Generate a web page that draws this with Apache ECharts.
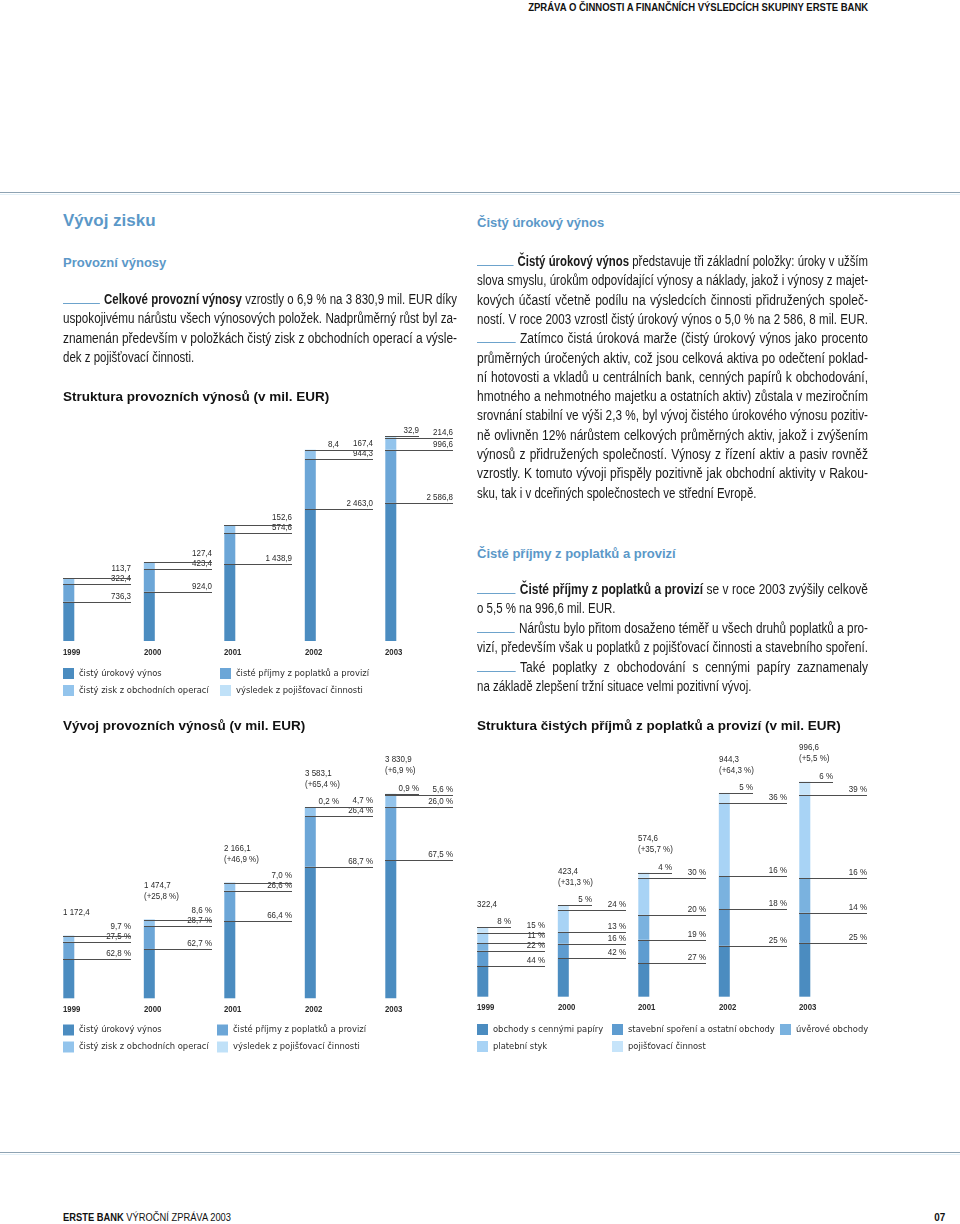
<!DOCTYPE html>
<html><head><meta charset="utf-8">
<script src="https://cdn.jsdelivr.net/npm/echarts@6/dist/echarts.min.js"></script>
<style>
html,body{margin:0;padding:0;background:#fff;}
#page{position:relative;width:960px;height:1224px;overflow:hidden;font-family:"Liberation Sans",Arial,sans-serif;color:#1a1a1a;}
#chart{position:absolute;left:0;top:0;width:960px;height:1224px;}
.ln{position:absolute;font-size:14px;line-height:20px;height:20px;text-align:justify;text-align-last:justify;transform-origin:0 0;}
.ln.last{text-align-last:left;}
.rule{display:inline-block;width:45px;height:1px;background:#6da3cc;vertical-align:baseline;margin-right:5px;}
.h1{position:absolute;font-weight:bold;color:#5b98c8;white-space:nowrap;}
.hr{position:absolute;left:0;width:960px;height:1px;background:#8ea3b3;}
.hr2{position:absolute;left:0;width:960px;height:1px;background:#e4f1f8;}
.fit{position:absolute;white-space:nowrap;font-size:11px;color:#111;}
</style></head>
<body><div id="page">
<div class="fit" id="hdr" data-w="340" data-right="868" style="top:1px;font-weight:bold;">ZPRÁVA O ČINNOSTI A FINANČNÍCH VÝSLEDCÍCH SKUPINY ERSTE BANK</div>
<div class="hr" style="top:192px"></div><div class="hr2" style="top:194px"></div>
<div class="h1" style="left:63px;top:211px;font-size:17px;">Vývoj zisku</div>
<div class="h1" style="left:63px;top:255px;font-size:13px;">Provozní výnosy</div>
<div class="h1" style="left:477px;top:215px;font-size:13px;">Čistý úrokový výnos</div>
<div class="h1" style="left:477px;top:546px;font-size:13px;">Čisté příjmy z poplatků a provizí</div>
<div class="hr" style="top:1152px"></div><div class="hr2" style="top:1154px"></div>
<div class="fit" data-w="168" data-left="63" style="top:1211px;"><b>ERSTE BANK</b> VÝROČNÍ ZPRÁVA 2003</div>
<div class="fit" data-w="11" data-right="945" style="top:1211px;font-weight:bold;">07</div>
<div id="chart"></div>
</div>
<script>
// ---------- data ----------
const years = ['1999', '2000', '2001', '2002', '2003'];
// Struktura provozních výnosů (v mil. EUR)
const netInterest = [736.3, 924.0, 1438.9, 2463.0, 2586.8];
const netFees = [322.4, 423.4, 574.6, 944.3, 996.6];
const netTrading = [113.7, 127.4, 152.6, 167.4, 214.6];
const insuranceResult = [null, null, null, 8.4, 32.9];
// Vývoj provozních výnosů (v mil. EUR)
const opTotals = [1172.4, 1474.7, 2166.1, 3583.1, 3830.9];
const opGrowth = [null, 25.8, 46.9, 65.4, 6.9];
const interestPct = [62.8, 62.7, 66.4, 68.7, 67.5];
const feesPct = [27.5, 28.7, 26.6, 26.4, 26.0];
const tradingPct = [9.7, 8.6, 7.0, 4.7, 5.6];
const insurancePct = [null, null, null, 0.2, 0.9];
// Struktura čistých příjmů z poplatků a provizí (v mil. EUR)
const feeTotals = [322.4, 423.4, 574.6, 944.3, 996.6];
const feeGrowth = [null, 31.3, 35.7, 64.3, 5.5];
const securitiesPct = [44, 42, 27, 25, 25];
const buildingPct = [22, 16, 19, 18, 14];
const lendingPct = [11, 13, 20, 16, 16];
const paymentsPct = [15, 24, 30, 36, 39];
const insFeesPct = [8, 5, 4, 5, 6];

// ---------- prose ----------
const leftLines = [
 ['<span class="rule"></span><b>Celkové provozní výnosy</b> vzrostly o 6,9 % na 3 830,9 mil. EUR díky', 0],
 ['uspokojivému nárůstu všech výnosových položek. Nadprůměrný růst byl za-', 0],
 ['znamenán především v položkách čistý zisk z obchodních operací a výsle-', 0],
 ['dek z pojišťovací činnosti.', 1]
];
const rightLines1 = [
 ['<span class="rule"></span><b>Čistý úrokový výnos</b> představuje tři základní položky: úroky v užším', 0],
 ['slova smyslu, úrokům odpovídající výnosy a náklady, jakož i výnosy z majet-', 0],
 ['kových účastí včetně podílu na výsledcích činnosti přidružených společ-', 0],
 ['ností. V roce 2003 vzrostl čistý úrokový výnos o 5,0 % na 2 586, 8 mil. EUR.', 0],
 ['<span class="rule"></span>Zatímco čistá úroková marže (čistý úrokový výnos jako procento', 0],
 ['průměrných úročených aktiv, což jsou celková aktiva po odečtení poklad-', 0],
 ['ní hotovosti a vkladů u centrálních bank, cenných papírů k obchodování,', 0],
 ['hmotného a nehmotného majetku a ostatních aktiv) zůstala v meziročním', 0],
 ['srovnání stabilní ve výši 2,3 %, byl vývoj čistého úrokového výnosu pozitiv-', 0],
 ['ně ovlivněn 12% nárůstem celkových průměrných aktiv, jakož i zvýšením', 0],
 ['výnosů z přidružených společností. Výnosy z řízení aktiv a pasiv rovněž', 0],
 ['vzrostly. K tomuto vývoji přispěly pozitivně jak obchodní aktivity v Rakou-', 0],
 ['sku, tak i v dceřiných společnostech ve střední Evropě.', 1]
];
const rightLines2 = [
 ['<span class="rule"></span><b>Čisté příjmy z poplatků a provizí</b> se v roce 2003 zvýšily celkově', 0],
 ['o 5,5 % na 996,6 mil. EUR.', 1],
 ['<span class="rule"></span>Nárůstu bylo přitom dosaženo téměř u všech druhů poplatků a pro-', 0],
 ['vizí, především však u poplatků z pojišťovací činnosti a stavebního spoření.', 0],
 ['<span class="rule"></span>Také poplatky z obchodování s cennými papíry zaznamenaly', 0],
 ['na základě zlepšení tržní situace velmi pozitivní vývoj.', 1]
];
const page = document.getElementById('page');
const S_MIN = 0.76, S_MAX = 0.86, S_LAST = 0.82;
function addBlock(lines, x, firstCenter, pitch, w) {
  lines.forEach((l, i) => {
    const d = document.createElement('div');
    d.className = 'ln' + (l[1] ? ' last' : '');
    d.style.left = x + 'px';
    d.style.top = (firstCenter + i * pitch - 10.5) + 'px';
    d.innerHTML = l[0];
    d.style.whiteSpace = 'nowrap';
    page.appendChild(d);
    const nat = d.getBoundingClientRect().width;
    let s = l[1] ? S_LAST : Math.min(S_MAX, Math.max(S_MIN, (w - 1) / nat));
    if (nat * s > w - 1) s = (w - 1) / nat;
    d.style.whiteSpace = 'normal';
    d.style.width = (w / s) + 'px';
    d.style.transform = 'scaleX(' + s + ')';
  });
}
addBlock(leftLines, 63, 299, 19.6, 394);
addBlock(rightLines1, 477, 261.5, 19.3, 391);
addBlock(rightLines2, 477, 589.5, 19.45, 391);
document.querySelectorAll('.fit').forEach(el => {
  const nat = el.getBoundingClientRect().width;
  const s = (+el.dataset.w) / nat;
  if (el.dataset.right) {
    el.style.left = (+el.dataset.right - nat) + 'px';
    el.style.transformOrigin = '100% 0';
  } else {
    el.style.left = el.dataset.left + 'px';
    el.style.transformOrigin = '0 0';
  }
  el.style.transform = 'scaleX(' + s + ')';
});

// ---------- chart ----------
const SANS = '"Liberation Sans",Arial,sans-serif';
const COND = '"DejaVu Sans Condensed","Liberation Sans Narrow",sans-serif';
const LABEL_FONT = '9.5px ' + SANS;
const YEAR_FONT = 'bold 9.5px ' + SANS;
const TXT_SCALE = 0.84, YEAR_SCALE = 0.82;
const BAR_W = 11, LONG_LEN = 68, SHORT_LEN = 34, LABEL_GAP = 10;

function fmtNum(v) {
  const s = v.toFixed(1).split('.');
  return s[0].replace(/\B(?=(\d{3})+(?!\d))/g, ' ') + ',' + s[1];
}
const fmtPct1 = v => v.toFixed(1).replace('.', ',') + ' %';
const fmtPct0 = v => v + ' %';

function txt(text, x, y, align, vAlign, font, scale) {
  return {type: 'text', x: x, y: y, scaleX: scale, style: {text: text, x: 0, y: 0, textAlign: align, textVerticalAlign: vAlign, font: font, fill: '#2a2a2a'}};
}

function buildLabels(stacks, texts) {
  const items = [];
  for (let c = 0; c < years.length; c++) {
    let cum = 0; const longs = [];
    stacks.forEach((s, k) => {
      if (s[c] == null) return;
      cum += s[c];
      const isShort = (k === stacks.length - 1);
      const it = {cat: c, y: cum, text: texts[k][c], short: isShort};
      if (!isShort) { longs.push(cum); it.below = longs.slice(); }
      items.push(it);
    });
  }
  return items;
}
function labelRenderer(items) {
  return function (params, api) {
    const it = items[params.dataIndex];
    const p = api.coord([it.cat, it.y]);
    const x0 = Math.round(p[0] - BAR_W / 2);
    const ly = Math.round(p[1]) + 0.5;
    const len = it.short ? SHORT_LEN : LONG_LEN;
    let ty = ly - 1.5;
    if (!it.short) {
      let prev = null;
      it.below.forEach(v => {
        const yy = Math.round(api.coord([it.cat, v])[1]) + 0.5 - 1.5;
        prev = prev === null ? yy : Math.min(yy, prev - LABEL_GAP);
      });
      ty = prev;
    }
    return {type: 'group', children: [
      {type: 'line', shape: {x1: x0, y1: ly, x2: x0 + len, y2: ly}, style: {stroke: '#4e4e4e', lineWidth: 1}},
      txt(it.text, x0 + len, ty, 'right', 'bottom', LABEL_FONT, TXT_SCALE)
    ]};
  };
}
function yearRenderer(params, api) {
  const p = api.coord([api.value(0), 0]);
  return txt(years[params.dataIndex], Math.round(p[0] - BAR_W / 2), p[1] + 11, 'left', 'middle', YEAR_FONT, YEAR_SCALE);
}
function totalRenderer(totals, growth) {
  return function (params, api) {
    const i = params.dataIndex;
    const p = api.coord([i, totals[i]]);
    const x0 = Math.round(p[0] - BAR_W / 2);
    const base = p[1] - 23;
    const ch = [];
    if (growth[i] == null) {
      ch.push(txt(fmtNum(totals[i]), x0, base, 'left', 'middle', LABEL_FONT, TXT_SCALE));
    } else {
      ch.push(txt(fmtNum(totals[i]), x0, base - 11, 'left', 'middle', LABEL_FONT, TXT_SCALE));
      ch.push(txt('(+' + growth[i].toFixed(1).replace('.', ',') + ' %)', x0, base, 'left', 'middle', LABEL_FONT, TXT_SCALE));
    }
    return {type: 'group', children: ch};
  };
}

const N1 = 'čistý úrokový výnos', N2 = 'čisté příjmy z poplatků a provizí', N3 = 'čistý zisk z obchodních operací', N4 = 'výsledek z pojišťovací činnosti';
const F1 = 'obchody s cennými papíry', F2 = 'stavební spoření a ostatní obchody', F3 = 'úvěrové obchody', F4 = 'platební styk', F5 = 'pojišťovací činnost';
const opColors = ['#4b8cc0', '#6ca6d7', '#93c4ec', '#c0e1f8'];
const feeColors = ['#4b8cc0', '#5e9cd0', '#7ab2df', '#a8d3f5', '#c6e4fa'];

const opStacks = [netInterest, netFees, netTrading, insuranceResult];
const opNames = [N1, N2, N3, N4];
const feePcts = [securitiesPct, buildingPct, lendingPct, paymentsPct, insFeesPct];
const feeStacks = feePcts.map(arr => arr.map((p, i) => feeTotals[i] * p / 100));
const feeNames = [F1, F2, F3, F4, F5];

const labels1 = buildLabels(opStacks, opStacks.map(a => a.map(v => v == null ? '' : fmtNum(v))));
const labels2 = buildLabels(opStacks, [interestPct, feesPct, tradingPct, insurancePct].map(a => a.map(v => v == null ? '' : fmtPct1(v))));
const labels3 = buildLabels(feeStacks, feePcts.map(a => a.map(fmtPct0)));

const grids = [
  {left: 28.55, width: 402.5, top: 427.4, height: 213.6},
  {left: 28.55, width: 402.5, top: 784.7, height: 213.6},
  {left: 442.55, width: 402.5, top: 780.9, height: 215.8}
];
const xAxes = grids.map((g, i) => ({type: 'category', gridIndex: i, data: years, show: false}));
const yAxes = grids.map((g, i) => ({type: 'value', gridIndex: i, min: 0, max: i === 2 ? 1000 : 4000, show: false, splitLine: {show: false}}));

const series = [];
[0, 1].forEach(g => {
  opStacks.forEach((s, k) => series.push({type: 'bar', name: opNames[k], xAxisIndex: g, yAxisIndex: g, stack: 'op' + g, barWidth: BAR_W, data: s, itemStyle: {color: opColors[k]}, silent: true, animation: false}));
});
feeStacks.forEach((s, k) => series.push({type: 'bar', name: feeNames[k], xAxisIndex: 2, yAxisIndex: 2, stack: 'fee', barWidth: BAR_W, data: s, itemStyle: {color: feeColors[k]}, silent: true, animation: false}));
[labels1, labels2, labels3].forEach((L, g) => series.push({type: 'custom', xAxisIndex: g, yAxisIndex: g, data: L.map(it => [it.cat, it.y]), encode: {x: 0, y: 1}, renderItem: labelRenderer(L), z: 5, silent: true, animation: false, clip: false}));
[0, 1, 2].forEach(g => series.push({type: 'custom', xAxisIndex: g, yAxisIndex: g, data: years.map((y, i) => [i, 0]), encode: {x: 0, y: 1}, renderItem: yearRenderer, z: 5, silent: true, animation: false, clip: false}));
series.push({type: 'custom', xAxisIndex: 1, yAxisIndex: 1, data: opTotals.map((t, i) => [i, t]), encode: {x: 0, y: 1}, renderItem: totalRenderer(opTotals, opGrowth), z: 5, silent: true, animation: false, clip: false});
series.push({type: 'custom', xAxisIndex: 2, yAxisIndex: 2, data: feeTotals.map((t, i) => [i, t]), encode: {x: 0, y: 1}, renderItem: totalRenderer(feeTotals, feeGrowth), z: 5, silent: true, animation: false, clip: false});

const legBase = {orient: 'vertical', itemWidth: 11, itemHeight: 11, itemGap: 6, icon: 'rect', padding: 0, selectedMode: false, textStyle: {fontSize: 9.3, color: '#2a2a2a', fontFamily: COND}};
const legends = [
  Object.assign({}, legBase, {left: 63, top: 668, data: [N1, N3]}),
  Object.assign({}, legBase, {left: 220, top: 668, data: [N2, N4]}),
  Object.assign({}, legBase, {left: 63, top: 1024.5, data: [N1, N3]}),
  Object.assign({}, legBase, {left: 217, top: 1024.5, data: [N2, N4]}),
  Object.assign({}, legBase, {left: 477, top: 1024, data: [F1, F4]}),
  Object.assign({}, legBase, {left: 612, top: 1024, data: [F2, F5]}),
  Object.assign({}, legBase, {left: 780, top: 1024, data: [F3]})
];
const titleStyle = {fontFamily: SANS, fontWeight: 'bold', fontSize: 13.5, color: '#111'};
const titles = [
  {text: 'Struktura provozních výnosů (v mil. EUR)', left: 63, top: 390, padding: 0, textStyle: titleStyle},
  {text: 'Vývoj provozních výnosů (v mil. EUR)', left: 63, top: 719, padding: 0, textStyle: titleStyle},
  {text: 'Struktura čistých příjmů z poplatků a provizí (v mil. EUR)', left: 477, top: 719, padding: 0, textStyle: titleStyle}
];

const chart = echarts.init(document.getElementById('chart'), null, {renderer: 'canvas'});
chart.setOption({
  animation: false,
  backgroundColor: 'transparent',
  textStyle: {fontFamily: SANS},
  title: titles,
  legend: legends,
  grid: grids,
  xAxis: xAxes,
  yAxis: yAxes,
  series: series
});
</script>
</body></html>
